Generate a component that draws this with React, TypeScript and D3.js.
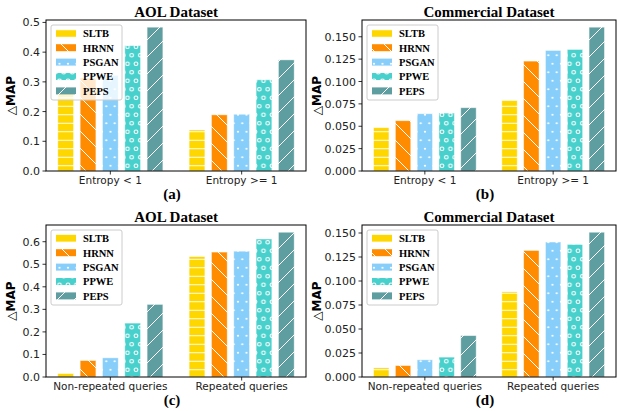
import React from 'react';
import * as d3 from 'd3';

const methods = ['SLTB', 'HRNN', 'PSGAN', 'PPWE', 'PEPS'];
const colors = ['#ffd700', '#ff8c00', '#87cefa', '#48d1cc', '#5f9ea0'];
const entropyGroups = ['Entropy < 1', 'Entropy >= 1'];
const queryGroups = ['Non-repeated queries', 'Repeated queries'];

// delta MAP, one value per method, one array per group
const aolEntropyLow = [0.262, 0.313, 0.322, 0.422, 0.484];
const aolEntropyHigh = [0.138, 0.189, 0.191, 0.307, 0.374];
const comEntropyLow = [0.0484, 0.0562, 0.064, 0.0647, 0.0707];
const comEntropyHigh = [0.0786, 0.1228, 0.1347, 0.1358, 0.1607];
const aolNonRepeated = [0.015, 0.073, 0.085, 0.239, 0.322];
const aolRepeated = [0.534, 0.554, 0.558, 0.612, 0.642];
const comNonRepeated = [0.0095, 0.0119, 0.0179, 0.0207, 0.0431];
const comRepeated = [0.0887, 0.1318, 0.1406, 0.1381, 0.1508];

const SERIF = '"Liberation Serif", "Times New Roman", serif';
const SANS = '"DejaVu Sans", sans-serif';

const panels = [
  { title: 'AOL Dataset', caption: '(a)', groups: entropyGroups, series: [aolEntropyLow, aolEntropyHigh], step: 0.1, fmt: '.1f', col: 0, row: 0 },
  { title: 'Commercial Dataset', caption: '(b)', groups: entropyGroups, series: [comEntropyLow, comEntropyHigh], step: 0.025, fmt: '.3f', col: 1, row: 0 },
  { title: 'AOL Dataset', caption: '(c)', groups: queryGroups, series: [aolNonRepeated, aolRepeated], step: 0.1, fmt: '.1f', col: 0, row: 1 },
  { title: 'Commercial Dataset', caption: '(d)', groups: queryGroups, series: [comNonRepeated, comRepeated], step: 0.025, fmt: '.3f', col: 1, row: 1 },
];

const cols = [{ left: 46, right: 306 }, { left: 362, right: 616 }];
const rows = [{ top: 20, bottom: 171 }, { top: 225, bottom: 377 }];

function Patterns() {
  const s = 8.5;
  const d = 17;
  return (
    <defs>
      <pattern id="hatch-0" patternUnits="userSpaceOnUse" width={s} height={s}>
        <rect width={s} height={s} fill={colors[0]} />
        <line x1={0} x2={s} y1={s / 2} y2={s / 2} stroke="#fff" strokeWidth={1} />
      </pattern>
      <pattern id="hatch-1" patternUnits="userSpaceOnUse" width={d} height={d}>
        <rect width={d} height={d} fill={colors[1]} />
        <path d={`M0,0L${d},${d}M-2,${d - 2}L2,${d + 2}M${d - 2},-2L${d + 2},2`} stroke="#fff" strokeWidth={1} />
      </pattern>
      <pattern id="hatch-2" patternUnits="userSpaceOnUse" width={s} height={s * 2}>
        <rect width={s} height={s * 2} fill={colors[2]} />
        <circle cx={s / 2} cy={s / 2} r={1.1} fill="#fff" />
        <circle cx={0} cy={s * 1.5} r={1.1} fill="#fff" />
        <circle cx={s} cy={s * 1.5} r={1.1} fill="#fff" />
      </pattern>
      <pattern id="hatch-3" patternUnits="userSpaceOnUse" width={s} height={s * 2}>
        <rect width={s} height={s * 2} fill={colors[3]} />
        <circle cx={s / 2} cy={s / 2} r={1.8} fill="none" stroke="#fff" strokeWidth={1.1} />
        <circle cx={0} cy={s * 1.5} r={1.8} fill="none" stroke="#fff" strokeWidth={1.1} />
        <circle cx={s} cy={s * 1.5} r={1.8} fill="none" stroke="#fff" strokeWidth={1.1} />
      </pattern>
      <pattern id="hatch-4" patternUnits="userSpaceOnUse" width={d} height={d}>
        <rect width={d} height={d} fill={colors[4]} />
        <path d={`M0,${d}L${d},0M-2,2L2,-2M${d - 2},${d + 2}L${d + 2},${d - 2}`} stroke="#fff" strokeWidth={1} />
      </pattern>
    </defs>
  );
}

function Panel({ p }) {
  const { left, right } = cols[p.col];
  const { top, bottom } = rows[p.row];
  const x = d3.scaleLinear().domain([-0.49, 1.49]).range([left, right]);
  const ymax = d3.max(p.series.flat()) * 1.05;
  const y = d3.scaleLinear().domain([0, ymax]).range([bottom, top]);
  const yTicks = d3.range(0, ymax, p.step);
  const fmt = d3.format(p.fmt);
  const cx = (left + right) / 2;
  const barW = x(0.06) - x(-0.06);
  const labelX = left - (p.fmt === '.3f' ? 41 : 31);
  const lx = left + 5;
  const ly = top + 5;

  return (
    <g>
      <text x={cx} y={top - 3.5} textAnchor="middle" fontFamily={SERIF} fontWeight="bold" fontSize={15}>{p.title}</text>
      {p.series.map((vals, g) =>
        vals.map((v, i) => (
          <rect key={`${g}-${i}`} x={x(g + (i - 2) * 0.17) - barW / 2} y={y(v)} width={barW} height={y(0) - y(v)}
            fill={`url(#hatch-${i})`} stroke="#fff" strokeOpacity={0.55} strokeWidth={0.8} />
        ))
      )}
      <rect x={left} y={top} width={right - left} height={bottom - top} fill="none" stroke="#000" strokeWidth={1} />
      {yTicks.map(t => (
        <g key={t}>
          <line x1={left - 3.5} x2={left} y1={y(t)} y2={y(t)} stroke="#000" strokeWidth={0.8} />
          <text x={left - 6} y={y(t) + 4} textAnchor="end" fontFamily={SANS} fontSize={11} fill="#222">{fmt(t)}</text>
        </g>
      ))}
      {p.groups.map((g, i) => (
        <g key={g}>
          <line x1={x(i)} x2={x(i)} y1={bottom} y2={bottom + 3.5} stroke="#000" strokeWidth={0.8} />
          <text x={x(i)} y={bottom + 13} textAnchor="middle" fontFamily={SANS} fontSize={10.5} fill="#222">{g}</text>
        </g>
      ))}
      <text transform={`translate(${labelX},${(top + bottom) / 2}) rotate(-90)`} textAnchor="middle" fontFamily={SANS} fontSize={12}>
        <tspan>△</tspan><tspan fontWeight="bold">MAP</tspan>
      </text>
      <text x={cx - 4} y={bottom + 28} textAnchor="middle" fontFamily={SERIF} fontWeight="bold" fontSize={15}>{p.caption}</text>
      <rect x={lx} y={ly} width={71} height={75} rx={2} fill="#fff" fillOpacity={0.8} stroke="#ccc" strokeWidth={1} />
      {methods.map((m, i) => (
        <g key={m}>
          <rect x={lx + 5} y={ly + 8.3 + i * 14.4 - 3.5} width={20} height={7} fill={`url(#hatch-${i})`} />
          <text x={lx + 32} y={ly + 8.3 + i * 14.4 + 3.8} fontFamily={SERIF} fontWeight="bold" fontSize={10.5}>{m}</text>
        </g>
      ))}
    </g>
  );
}

export default function App() {
  return (
    <div style={{ position: 'absolute', left: 0, top: 0 }}>
      <svg width={620} height={411} style={{ display: 'block', background: '#fff' }}>
        <Patterns />
        {panels.map(p => <Panel key={p.caption} p={p} />)}
      </svg>
    </div>
  );
}
